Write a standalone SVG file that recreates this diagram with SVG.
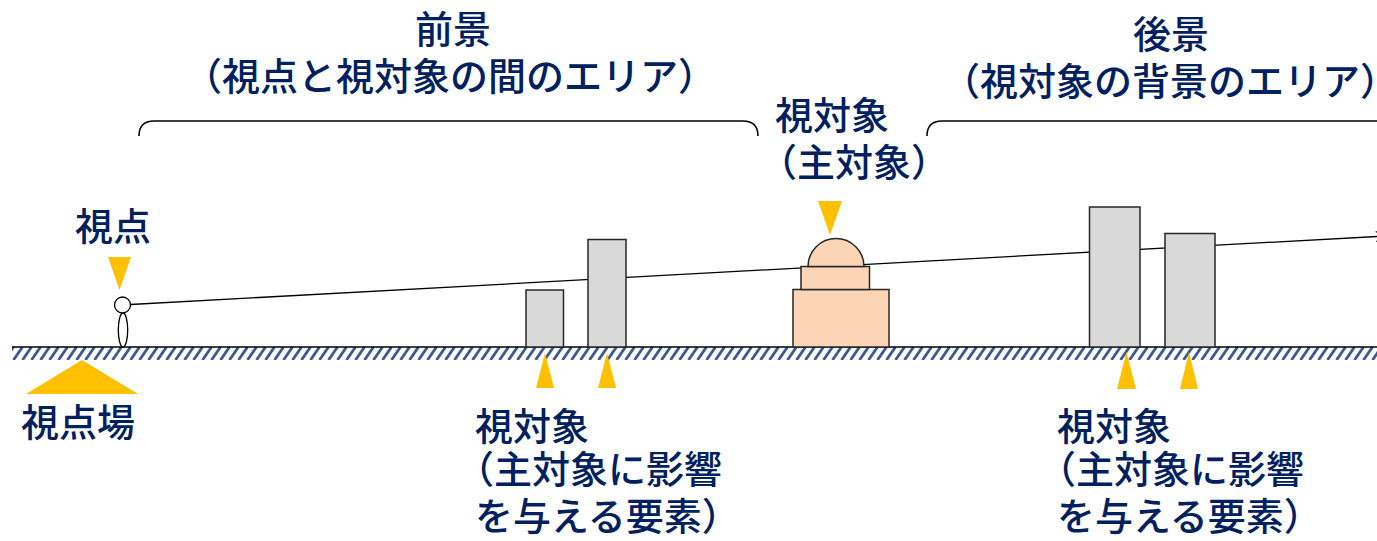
<svg xmlns="http://www.w3.org/2000/svg" width="1377" height="541" viewBox="0 0 1377 541">
  <defs>
    <style>
      .lbl { font-family: "Noto Sans CJK JP", "Noto Sans", sans-serif; font-size: 38px; font-weight: 500; fill: #002060; }
      .bldg { fill: #d9d9d9; stroke: #262626; stroke-width: 1.5; }
      .main { fill: #fbd5b5; stroke: #262626; stroke-width: 1.5; }
      .mark { fill: #ffc000; }
      .brace { fill: none; stroke: #000; stroke-width: 1.6; }
    </style>
    <pattern id="hatch" patternUnits="userSpaceOnUse" width="9" height="13" x="0" y="347">
      <rect width="9" height="13" fill="#ffffff"/>
      <path d="M-4.5,13 L4.5,0 M4.5,13 L13.5,0" stroke="#3d5a94" stroke-width="2.8"/>
    </pattern>
    <marker id="openArrow" viewBox="0 0 12 12" refX="11" refY="6" markerWidth="12" markerHeight="12" markerUnits="userSpaceOnUse" orient="auto">
      <path d="M1,1 L11,6 L1,11" fill="none" stroke="#000" stroke-width="1.2"/>
    </marker>
  </defs>

  <rect width="1377" height="541" fill="#ffffff"/>

  <!-- ground -->
  <g id="ground">
    <rect x="12" y="347" width="1365" height="13" fill="url(#hatch)"/>
    <line x1="12" y1="347" x2="1377" y2="347" stroke="#000" stroke-width="1.6"/>
  </g>

  <!-- foreground / background brackets -->
  <g id="brackets">
    <path class="brace" d="M139,136 Q139,121 154,121 L743,121 Q758,121 758,136"/>
    <path class="brace" d="M927,136 Q927,121 942,121 L1390,121"/>
  </g>

  <!-- line of sight -->
  <g id="connectors">
    <line x1="130.5" y1="304.5" x2="1386" y2="236" stroke="#000" stroke-width="1.3" marker-end="url(#openArrow)"/>
  </g>

  <!-- viewer -->
  <g id="viewer">
    <ellipse cx="123" cy="330" rx="4.7" ry="17" fill="#fff" stroke="#000" stroke-width="1.3"/>
    <circle cx="122.5" cy="305" r="8" fill="#fff" stroke="#000" stroke-width="1.3"/>
    <polygon class="mark" points="108,257 131,257 119.5,290"/>
    <text class="lbl" x="75" y="240">視点</text>
  </g>

  <!-- viewpoint field -->
  <g id="viewpoint-field">
    <polygon class="mark" points="82,360 138,394 26,394"/>
    <text class="lbl" x="21" y="436">視点場</text>
  </g>

  <!-- foreground objects -->
  <g id="foreground-objects">
    <rect class="bldg" x="526" y="290" width="37.5" height="57"/>
    <rect class="bldg" x="588" y="239.5" width="38" height="107.5"/>
    <polygon class="mark" points="545,353 554,388 536,388"/>
    <polygon class="mark" points="607,353 616,388 598,388"/>
    <text class="lbl" x="475" y="440">視対象</text>
    <text class="lbl" x="456" y="483">（主対象に影響</text>
    <text class="lbl" x="475" y="530">を与える要素）</text>
  </g>

  <!-- main object -->
  <g id="main-object">
    <rect class="main" x="793" y="289.5" width="96" height="57.5"/>
    <rect class="main" x="801" y="266.5" width="68.5" height="23"/>
    <path class="main" d="M808,266.5 A28,28 0 0 1 864,266.5 Z"/>
    <polygon class="mark" points="818,201 842,201 830,235"/>
    <text class="lbl" x="775" y="129">視対象</text>
    <text class="lbl" x="759" y="176">（主対象）</text>
  </g>

  <!-- background objects -->
  <g id="background-objects">
    <rect class="bldg" x="1089.5" y="207" width="50.5" height="140"/>
    <rect class="bldg" x="1165" y="233.5" width="50" height="113.5"/>
    <polygon class="mark" points="1126.5,352 1136,389 1117,389"/>
    <polygon class="mark" points="1189,352 1198,389 1180,389"/>
    <text class="lbl" x="1057" y="440">視対象</text>
    <text class="lbl" x="1038" y="483">（主対象に影響</text>
    <text class="lbl" x="1057" y="530">を与える要素）</text>
  </g>

  <!-- area titles -->
  <g id="foreground-title">
    <text class="lbl" x="415" y="43">前景</text>
    <text class="lbl" x="184" y="90">（視点と視対象の間のエリア）</text>
  </g>
  <g id="background-title">
    <text class="lbl" x="1133" y="48">後景</text>
    <text class="lbl" x="942" y="95">（視対象の背景のエリア）</text>
  </g>
</svg>
